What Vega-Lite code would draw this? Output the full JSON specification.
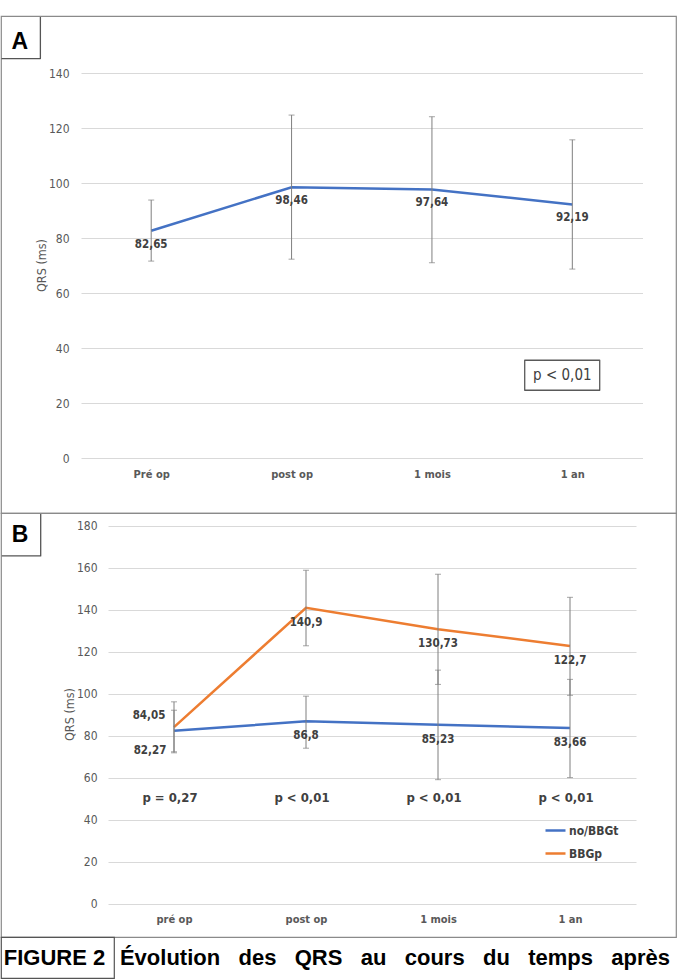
{
  "$schema": "https://vega.github.io/schema/vega-lite/v6.json",
  "padding": {"left": 0, "top": 15, "right": 0, "bottom": 0},
  "spacing": 0,
  "bounds": "flush",
  "config": {
    "view": {"stroke": "#8a8a8a", "strokeWidth": 1.2},
    "font": "Liberation Sans Narrow, DejaVu Sans Condensed, Roboto, sans-serif",
    "axis": {"gridColor": "#d9d9d9", "gridWidth": 1, "labelColor": "#595959", "titleColor": "#595959", "domain": false, "ticks": false, "labelFontSize": 12, "titleFontSize": 12.5, "titleFontWeight": "normal"}
  },
  "datasets": {
    "a": [
      {"time": "Pré op", "value": 82.65, "low": 71.6, "high": 93.8, "label": "82,65"},
      {"time": "post op", "value": 98.46, "low": 72.3, "high": 124.7, "label": "98,46"},
      {"time": "1 mois", "value": 97.64, "low": 71.0, "high": 124.1, "label": "97,64"},
      {"time": "1 an", "value": 92.19, "low": 68.7, "high": 115.7, "label": "92,19"}
    ],
    "b": [
      {"series": "no/BBGt", "time": "pré op", "value": 82.27, "low": 72.3, "high": 92.1, "label": "82,27"},
      {"series": "no/BBGt", "time": "post op", "value": 86.8, "low": 74.0, "high": 98.8, "label": "86,8"},
      {"series": "no/BBGt", "time": "1 mois", "value": 85.23, "low": 59.0, "high": 111.2, "label": "85,23"},
      {"series": "no/BBGt", "time": "1 an", "value": 83.66, "low": 60.0, "high": 106.8, "label": "83,66"},
      {"series": "BBGp", "time": "pré op", "value": 84.05, "low": 71.8, "high": 96.1, "label": "84,05"},
      {"series": "BBGp", "time": "post op", "value": 140.9, "low": 122.8, "high": 158.8, "label": "140,9"},
      {"series": "BBGp", "time": "1 mois", "value": 130.73, "low": 104.4, "high": 156.9, "label": "130,73"},
      {"series": "BBGp", "time": "1 an", "value": 122.7, "low": 99.2, "high": 145.9, "label": "122,7"}
    ],
    "bp": [
      {"time": "pré op", "p": "p = 0,27"},
      {"time": "post op", "p": "p < 0,01"},
      {"time": "1 mois", "p": "p < 0,01"},
      {"time": "1 an", "p": "p < 0,01"}
    ]
  },
  "vconcat": [
    {
      "width": 675,
      "height": 497,
      "data": {"name": "a"},
      "layer": [
        {
          "mark": {"type": "line", "color": "#4472C4", "strokeWidth": 2.5},
          "encoding": {
            "x": {"field": "time", "type": "nominal", "title": null,
              "scale": {"type": "point", "domain": ["Pré op", "post op", "1 mois", "1 an"], "range": [80, 641.5], "padding": 0.5},
              "axis": {"orient": "bottom", "offset": -55, "labelPadding": 10, "labelAngle": 0, "labelFontSize": 11, "labelFontWeight": "bold", "grid": false}},
            "y": {"field": "value", "type": "quantitative", "title": "QRS (ms)",
              "scale": {"domain": [0, 140], "range": [442, 57], "nice": false, "zero": false},
              "axis": {"values": [0, 20, 40, 60, 80, 100, 120, 140], "grid": true, "offset": -70, "labelPadding": 2, "titleX": -30, "titleY": 249, "titleAngle": -90, "titleBaseline": "middle", "titleAlign": "center"}}
          }
        },
        {
          "mark": {"type": "errorbar", "color": "#7f7f7f", "ticks": {"size": 6}, "rule": {"strokeWidth": 1}},
          "encoding": {
            "x": {"field": "time", "type": "nominal", "title": null},
            "y": {"field": "low", "type": "quantitative", "title": "QRS (ms)"},
            "y2": {"field": "high"}
          }
        },
        {
          "mark": {"type": "text", "dy": 14, "fontSize": 11.5, "fontWeight": "bold", "color": "#404040"},
          "encoding": {
            "x": {"field": "time", "type": "nominal", "title": null},
            "y": {"field": "value", "type": "quantitative", "title": "QRS (ms)"},
            "text": {"field": "label"}
          }
        },
        {
          "data": {"values": [{"letter": "A"}]},
          "mark": {"type": "point", "shape": "M-110.8,-24.65L-110.8,16.9L-149.75,16.9", "size": 4, "filled": false, "color": "#555555", "strokeWidth": 1.3, "strokeJoin": "round", "opacity": 1},
          "encoding": {
            "x": {"datum": "Pré op", "type": "nominal", "title": null},
            "y": {"datum": 151.4, "type": "quantitative", "title": "QRS (ms)"}
          }
        },
        {
          "data": {"values": [{"letter": "A"}]},
          "mark": {"type": "text", "dx": -131.5, "font": "Liberation Sans", "fontSize": 23, "fontWeight": "bold", "color": "#000000"},
          "encoding": {
            "x": {"datum": "Pré op", "type": "nominal", "title": null},
            "y": {"datum": 151.4, "type": "quantitative", "title": "QRS (ms)"},
            "text": {"field": "letter"}
          }
        },
        {
          "data": {"values": [{"note": "p < 0,01"}]},
          "mark": {"type": "point", "shape": "M-47.6,-14.7L27.4,-14.7L27.4,15.3L-47.6,15.3Z", "size": 4, "filled": false, "color": "#595959", "strokeWidth": 1.3, "strokeJoin": "round", "opacity": 1},
          "encoding": {
            "x": {"datum": "1 an", "type": "nominal", "title": null},
            "y": {"datum": 30.2, "type": "quantitative", "title": "QRS (ms)"}
          }
        },
        {
          "data": {"values": [{"note": "p < 0,01"}]},
          "mark": {"type": "text", "dx": -10, "fontSize": 15, "color": "#404040"},
          "encoding": {
            "x": {"datum": "1 an", "type": "nominal", "title": null},
            "y": {"datum": 30.2, "type": "quantitative", "title": "QRS (ms)"},
            "text": {"field": "note"}
          }
        }
      ]
    },
    {
      "width": 675,
      "height": 424,
      "data": {"name": "b"},
      "layer": [
        {
          "mark": {"type": "line", "strokeWidth": 2.5},
          "encoding": {
            "x": {"field": "time", "type": "nominal", "title": null,
              "scale": {"type": "point", "domain": ["pré op", "post op", "1 mois", "1 an"], "range": [107, 635], "padding": 0.5},
              "axis": {"orient": "bottom", "offset": -33.5, "labelPadding": 10, "labelAngle": 0, "labelFontSize": 11, "labelFontWeight": "bold", "grid": false}},
            "y": {"field": "value", "type": "quantitative", "title": "QRS (ms)",
              "scale": {"domain": [0, 180], "range": [390.5, 12.75], "nice": false, "zero": false},
              "axis": {"values": [0, 20, 40, 60, 80, 100, 120, 140, 160, 180], "grid": true, "offset": -98, "labelPadding": 2, "titleX": -30, "titleY": 201, "titleAngle": -90, "titleBaseline": "middle", "titleAlign": "center"}},
            "color": {"field": "series", "type": "nominal",
              "scale": {"domain": ["no/BBGt", "BBGp"], "range": ["#4472C4", "#ED7D31"]},
              "legend": {"orient": "none", "legendX": 543, "legendY": 803, "title": null, "symbolType": "stroke", "symbolSize": 400, "symbolStrokeWidth": 2.5, "labelFontSize": 12, "labelFontWeight": "bold", "labelColor": "#404040", "rowPadding": 5, "labelOffset": 2, "padding": 0}}
          }
        },
        {
          "mark": {"type": "errorbar", "color": "#7f7f7f", "ticks": {"size": 6}, "rule": {"strokeWidth": 1}},
          "encoding": {
            "x": {"field": "time", "type": "nominal", "title": null},
            "y": {"field": "low", "type": "quantitative", "title": "QRS (ms)"},
            "y2": {"field": "high"}
          }
        },
        {
          "transform": [{"filter": "datum.time != 'pré op'"}],
          "mark": {"type": "text", "dy": 15, "fontSize": 11.5, "fontWeight": "bold", "color": "#404040"},
          "encoding": {
            "x": {"field": "time", "type": "nominal", "title": null},
            "y": {"field": "value", "type": "quantitative", "title": "QRS (ms)"},
            "text": {"field": "label"}
          }
        },
        {
          "transform": [{"filter": "datum.time == 'pré op' && datum.series == 'BBGp'"}],
          "mark": {"type": "text", "dx": -25, "dy": -11.5, "fontSize": 11.5, "fontWeight": "bold", "color": "#404040"},
          "encoding": {
            "x": {"field": "time", "type": "nominal", "title": null},
            "y": {"field": "value", "type": "quantitative", "title": "QRS (ms)"},
            "text": {"field": "label"}
          }
        },
        {
          "transform": [{"filter": "datum.time == 'pré op' && datum.series == 'no/BBGt'"}],
          "mark": {"type": "text", "dx": -24, "dy": 20.5, "fontSize": 11.5, "fontWeight": "bold", "color": "#404040"},
          "encoding": {
            "x": {"field": "time", "type": "nominal", "title": null},
            "y": {"field": "value", "type": "quantitative", "title": "QRS (ms)"},
            "text": {"field": "label"}
          }
        },
        {
          "data": {"name": "bp"},
          "mark": {"type": "text", "dx": -4, "fontSize": 13, "fontWeight": "bold", "color": "#404040"},
          "encoding": {
            "x": {"field": "time", "type": "nominal", "title": null},
            "y": {"datum": 50.5, "type": "quantitative", "title": "QRS (ms)"},
            "text": {"field": "p"}
          }
        },
        {
          "data": {"values": [{"letter": "B"}]},
          "mark": {"type": "point", "shape": "M-133.3,-21.2L-133.3,20.76L-172.25,20.76", "size": 4, "filled": false, "color": "#555555", "strokeWidth": 1.3, "strokeJoin": "round", "opacity": 1},
          "encoding": {
            "x": {"datum": "pré op", "type": "nominal", "title": null},
            "y": {"datum": 175.5, "type": "quantitative", "title": "QRS (ms)"}
          }
        },
        {
          "data": {"values": [{"letter": "B"}]},
          "mark": {"type": "text", "dx": -154, "font": "Liberation Sans", "fontSize": 23, "fontWeight": "bold", "color": "#000000"},
          "encoding": {
            "x": {"datum": "pré op", "type": "nominal", "title": null},
            "y": {"datum": 175.5, "type": "quantitative", "title": "QRS (ms)"},
            "text": {"field": "letter"}
          }
        }
      ]
    },
    {
      "spacing": 0,
      "bounds": "flush",
      "hconcat": [
        {
          "width": 113,
          "height": 41,
          "view": {"stroke": "#555555", "strokeWidth": 1.2},
          "data": {"values": [{"text": "FIGURE 2"}]},
          "mark": {"type": "text", "dx": -3, "font": "Liberation Sans", "fontSize": 22, "fontWeight": "bold", "color": "#000000"},
          "encoding": {"text": {"field": "text"}}
        },
        {
          "width": 562,
          "height": 41,
          "view": {"stroke": null},
          "data": {"values": [{"text": "Évolution\u00a0\u00a0 des\u00a0\u00a0 QRS\u00a0\u00a0 au\u00a0\u00a0 cours\u00a0\u00a0 du\u00a0\u00a0 temps\u00a0\u00a0 après"}]},
          "mark": {"type": "text", "font": "Liberation Sans", "fontSize": 22, "fontWeight": "bold", "color": "#000000"},
          "encoding": {"text": {"field": "text"}}
        }
      ]
    }
  ]
}
